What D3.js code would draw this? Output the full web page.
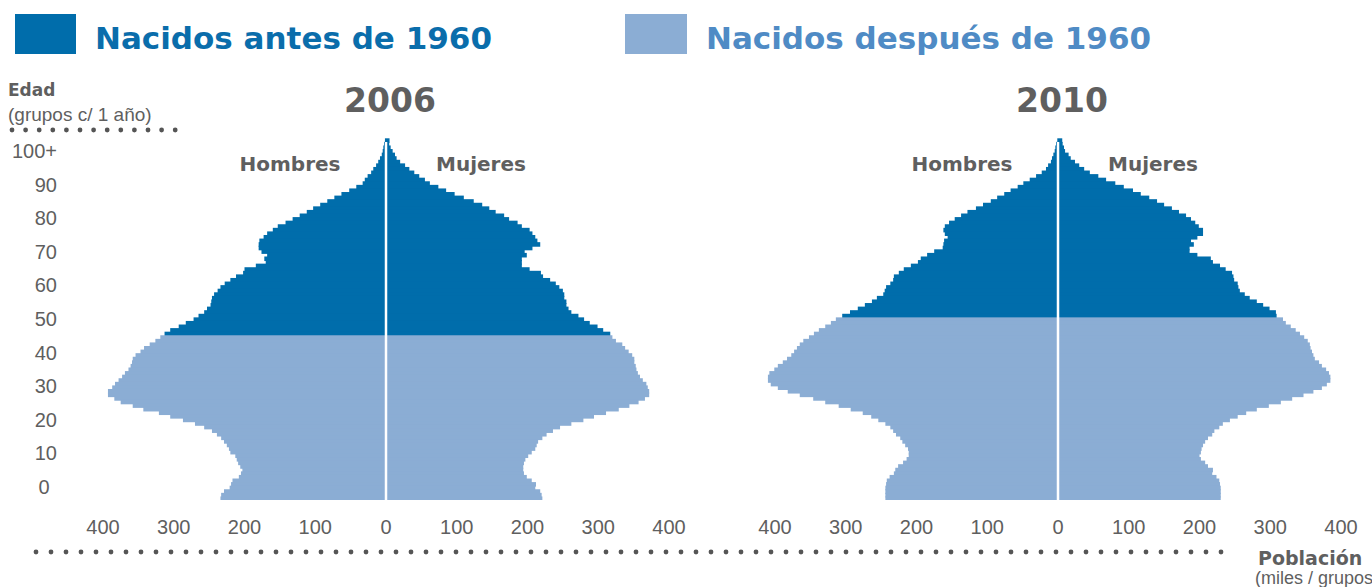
<!DOCTYPE html>
<html>
<head>
<meta charset="utf-8">
<script src="https://cdn.jsdelivr.net/npm/d3@7"></script>
<style>
  body { margin: 0; background: #fff; }
  svg text { font-family: "Liberation Sans", Arial, sans-serif; fill: #5f5f5f; }
  svg text.b { font-family: "DejaVu Sans", sans-serif; font-weight: bold; }
</style>
</head>
<body>
<svg id="chart" width="1372" height="587"></svg>
<script>
// ages 0..100 (100 = 100+), thousands of people
var ages = d3.range(0, 101);

var men2006 = [234, 233, 229, 221, 219, 217, 208, 205, 203, 206,
  209, 211, 213, 220, 222, 225, 229, 233, 239, 246,
  257, 270, 287, 305, 321, 343, 358, 375, 384, 393,
  393, 387, 383, 378, 373, 369, 364, 361, 359, 358,
  354, 347, 342, 334, 326, 319, 313, 305, 293, 283,
  272, 265, 257, 253, 248, 247, 246, 243, 238, 234,
  228, 220, 212, 202, 200, 184, 170, 172, 168, 176,
  180, 180, 179, 173, 168, 160, 153, 142, 132, 122,
  112, 103, 93, 83, 73, 63, 52, 42, 33, 30,
  26, 21, 18, 14, 11, 8.5, 6, 4.7, 3.8, 2.8, 1.5];

var women2006 = [221, 220, 218, 211, 212, 206, 199, 195, 194, 194,
  195, 197, 201, 206, 211, 213, 215, 221, 227, 236,
  246, 262, 279, 294, 311, 329, 344, 357, 366, 372,
  372, 370, 368, 363, 359, 356, 354, 353, 351, 351,
  348, 343, 338, 334, 325, 320, 317, 307, 299, 288,
  280, 272, 262, 258, 255, 255, 252, 252, 250, 245,
  240, 232, 222, 219, 203, 192, 192, 192, 199, 196,
  207, 218, 214, 211, 207, 203, 192, 186, 174, 167,
  155, 146, 136, 124, 110, 97, 85, 74, 62, 55,
  47, 40, 33, 27, 20, 15, 12.7, 9.4, 6.6, 4.5, 5];

var men2010 = [244, 244, 244, 244, 243, 242, 238, 232, 230, 226,
  219, 214, 211, 211, 212, 216, 220, 223, 229, 233,
  237, 244, 254, 264, 276, 293, 310, 329, 346, 365,
  382, 396, 406, 410, 410, 408, 401, 396, 389, 383,
  377, 373, 369, 365, 360, 352, 345, 338, 329, 321,
  314, 305, 294, 283, 273, 263, 256, 247, 245, 243,
  237, 233, 232, 225, 218, 208, 198, 194, 185, 175,
  163, 162, 161, 156, 160, 162, 160, 154, 146, 137,
  128, 116, 106, 95, 86, 76, 67, 57, 49, 40,
  31, 23, 17, 14, 10, 8.5, 6.6, 4.7, 3.8, 2.8, 1];

var women2010 = [230, 230, 230, 230, 229, 228, 224, 218, 219, 212,
  208, 202, 200, 202, 203, 205, 208, 212, 218, 221,
  228, 233, 243, 254, 266, 281, 298, 315, 331, 347,
  361, 373, 380, 385, 385, 383, 379, 373, 369, 363,
  361, 359, 357, 356, 353, 348, 342, 336, 329, 322,
  318, 309, 308, 299, 290, 281, 271, 264, 257, 255,
  254, 249, 248, 246, 237, 229, 219, 216, 197, 186,
  186, 192, 188, 197, 205, 205, 199, 194, 188, 181,
  171, 161, 150, 140, 129, 117, 106, 93, 81, 68,
  57, 45, 37, 30, 24, 18, 15, 10, 8.5, 6.6, 6];

var years = ["2006", "2010"];
var darkFromAge = [46, 51];   // first age born before 1960
var popTicks = [400, 300, 200, 100, 0, 100, 200, 300, 400];
var ageTicks = [0, 10, 20, 30, 40, 50, 60, 70, 80, 90, 100];
var ageTickLabels = ["0", "10", "20", "30", "40", "50", "60", "70", "80", "90", "100+"];

var dark = "#006dab", light = "#8badd4";

var svg = d3.select("#chart");

// legend
svg.append("rect").attr("x", 15).attr("y", 14).attr("width", 61).attr("height", 40).attr("fill", dark);
svg.append("text").attr("class", "b").attr("x", 95).attr("y", 49)
  .style("font-size", "31px").style("fill", "#0a6dab").text("Nacidos antes de 1960");
svg.append("rect").attr("x", 625).attr("y", 14).attr("width", 62).attr("height", 40).attr("fill", light);
svg.append("text").attr("class", "b").attr("x", 706).attr("y", 49)
  .style("font-size", "31px").style("fill", "#4f8bc5").text("Nacidos después de 1960");

// age axis title
svg.append("text").attr("class", "b").attr("x", 8).attr("y", 96).style("font-size", "17px").text("Edad");
svg.append("text").attr("x", 8).attr("y", 121).style("font-size", "19px").text("(grupos c/ 1 año)");
svg.selectAll(".dotTop").data(d3.range(13)).enter().append("circle")
  .attr("cx", function(d) { return 12 + d * 13.6 }).attr("cy", 130).attr("r", 2.4).attr("fill", "#555");

var y = d3.scaleBand().domain(ages).range([500, 138.3]);
var yLab = d3.scaleLinear().domain([0, 100]).range([487, 151]);
var x = d3.scaleLinear().domain([0, 400]).range([0, 283]);

svg.selectAll(".ageLab").data(ageTicks).enter().append("text")
  .attr("x", function(d) { return d == 0 ? 44 : 57 })
  .attr("y", function(d) { return yLab(d) + 7 })
  .attr("text-anchor", function(d) { return d == 0 ? "middle" : "end" })
  .style("font-size", "20px")
  .text(function(d, i) { return ageTickLabels[i] });

var pyramids = [
  {year: years[0], cx: 386, men: men2006, women: women2006, cut: darkFromAge[0]},
  {year: years[1], cx: 1058, men: men2010, women: women2010, cut: darkFromAge[1]}
];

pyramids.forEach(function(p) {
  var g = svg.append("g");
  var bh = y.bandwidth();

  // draw top-down so each bar's small overlap hides the seam below it
  var order = ages.slice().reverse();

  g.selectAll(".m").data(order).enter().append("rect")
    .attr("x", function(a) { return p.cx - x(p.men[a]) })
    .attr("y", function(a) { return y(a) })
    .attr("width", function(a) { return x(p.men[a]) })
    .attr("height", function(a) { return a == 0 ? bh : bh + 1 })
    .attr("fill", function(a) { return a >= p.cut ? dark : light });

  g.selectAll(".w").data(order).enter().append("rect")
    .attr("x", p.cx)
    .attr("y", function(a) { return y(a) })
    .attr("width", function(a) { return x(p.women[a]) })
    .attr("height", function(a) { return a == 0 ? bh : bh + 1 })
    .attr("fill", function(a) { return a >= p.cut ? dark : light });

  g.append("line").attr("x1", p.cx).attr("x2", p.cx)
    .attr("y1", y(99)).attr("y2", 500)
    .attr("stroke", "#fff").attr("stroke-width", 2.5);

  g.append("text").attr("class", "b").attr("x", p.cx + 4).attr("y", 112)
    .attr("text-anchor", "middle").style("font-size", "33px").text(p.year);
  g.append("text").attr("class", "b").attr("x", p.cx - 96).attr("y", 171)
    .attr("text-anchor", "middle").style("font-size", "20px").text("Hombres");
  g.append("text").attr("class", "b").attr("x", p.cx + 95).attr("y", 171)
    .attr("text-anchor", "middle").style("font-size", "20px").text("Mujeres");

  g.selectAll(".tick").data(popTicks).enter().append("text")
    .attr("x", function(d, i) { return i < 4 ? p.cx - x(d) : p.cx + x(d) })
    .attr("y", 534).attr("text-anchor", "middle").style("font-size", "20px")
    .text(function(d) { return d });
});

// bottom dotted rule
svg.selectAll(".dotBot").data(d3.range(80)).enter().append("circle")
  .attr("cx", function(d) { return 36 + d * 15 }).attr("cy", 552).attr("r", 2.4).attr("fill", "#555");
svg.append("text").attr("class", "b").attr("x", 1258).attr("y", 565).style("font-size", "19px").text("Población");
svg.append("text").attr("x", 1255).attr("y", 584).style("font-size", "18px").text("(miles / grupos c/ 1 año)");
</script>
</body>
</html>
